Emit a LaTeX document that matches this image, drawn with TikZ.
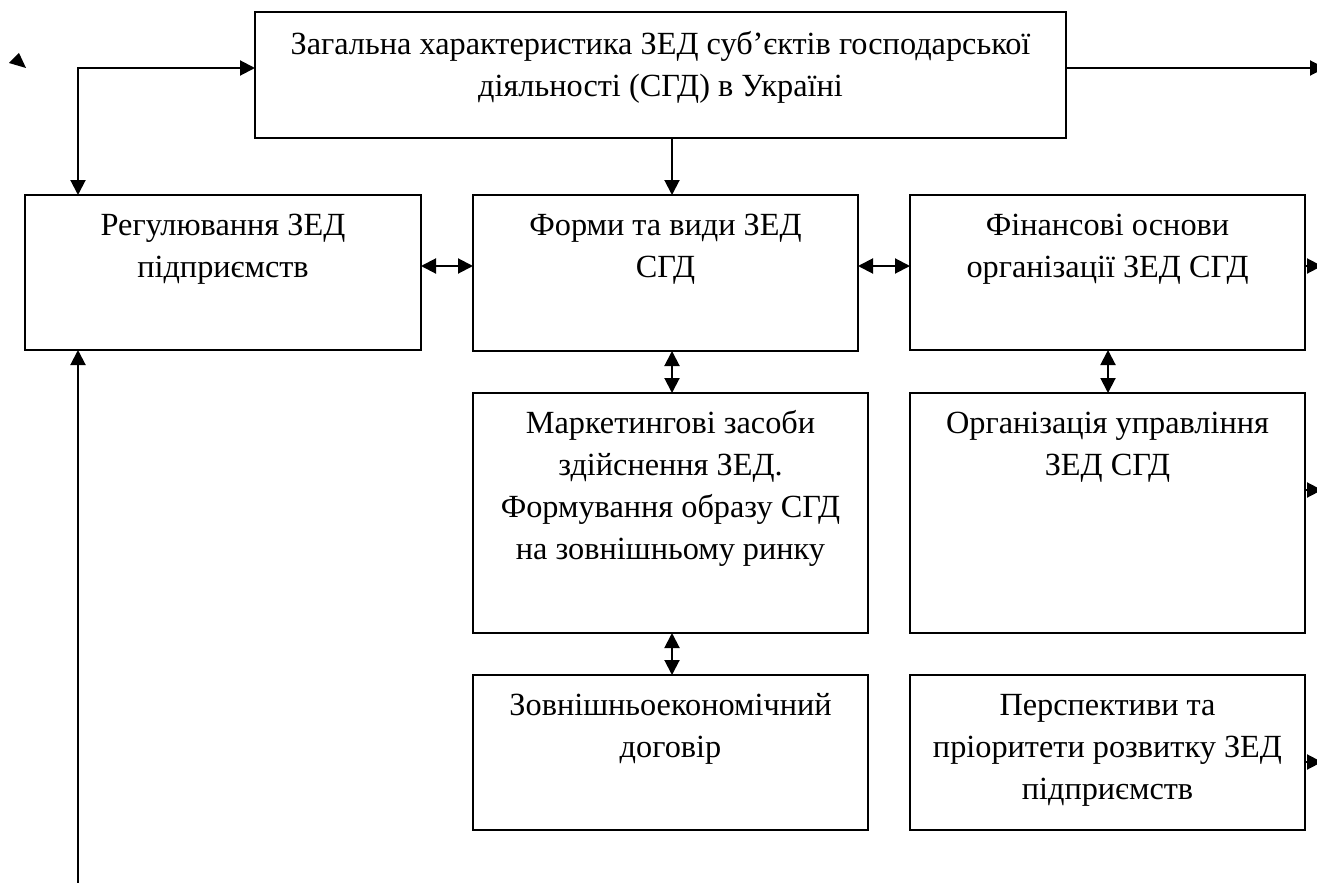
\documentclass[tikz,border=0pt]{standalone}
\usepackage{fontspec}
\setmainfont{Liberation Serif}
\usetikzlibrary{arrows.meta}
\newcommand\bxt[4]{\parbox[c][#2pt][t]{#1pt}{\centering\fontsize{32.3pt}{42pt}\selectfont\rule{0pt}{#3pt}#4}}
\begin{document}
\begin{tikzpicture}[x=1pt,y=-1pt,
  box/.style={draw, line width=1.6pt, inner sep=0pt, outer sep=0pt, anchor=north west},
  conn/.style={line width=2pt},
  arr/.style={conn, -{Triangle[length=15pt,width=15pt]}},
  dbl/.style={conn, {Triangle[length=15pt,width=15pt]}-{Triangle[length=15pt,width=15pt]}}]
\useasboundingbox (0,0) rectangle (1317,883);
\node[box] (top) at (255,12) {\bxt{811}{126}{43}{Загальна характеристика ЗЕД суб’єктів господарської\\діяльності (СГД) в Україні}};
\node[box] (reg) at (25,195) {\bxt{396}{155}{40}{Регулювання ЗЕД\\підприємств}};
\node[box] (forms) at (473,195) {\bxt{385}{156}{40}{Форми та види ЗЕД\\СГД}};
\node[box] (fin) at (910,195) {\bxt{395}{155}{40}{Фінансові основи\\організації ЗЕД СГД}};
\node[box] (mark) at (473,393) {\bxt{395}{240}{40}{Маркетингові засоби\\здійснення ЗЕД.\\Формування образу СГД\\на зовнішньому ринку}};
\node[box] (org) at (910,393) {\bxt{395}{240}{40}{Організація управління\\ЗЕД СГД}};
\node[box] (zovn) at (473,675) {\bxt{395}{155}{40}{Зовнішньоекономічний\\договір}};
\node[box] (persp) at (910,675) {\bxt{395}{155}{40}{Перспективи та\\пріоритети розвитку ЗЕД\\підприємств}};
\coordinate (ytop) at (0,68);
\coordinate (ymid) at (0,266);
\coordinate (yorg) at (0,490);
\coordinate (ypersp) at (0,762);
\coordinate (xL) at (78,0);
\coordinate (xM) at (672,0);
\coordinate (xR) at (1108,0);
\coordinate (corner) at (78,68);
\coordinate (outTop) at (1325,68);
\coordinate (outFin) at (1322,266);
\coordinate (outOrg) at (1322,490);
\coordinate (outPersp) at (1322,762);
\coordinate (inBot) at (78,890);
\draw[dbl] (reg.north -| xL) -- (corner) -- (top.west |- ytop);
\draw[arr] (top.east |- ytop) -- (outTop);
\draw[arr] (top.south -| xM) -- (forms.north -| xM);
\draw[dbl] (reg.east |- ymid) -- (forms.west |- ymid);
\draw[dbl] (forms.east |- ymid) -- (fin.west |- ymid);
\draw[arr] (fin.east |- ymid) -- (outFin);
\draw[dbl] (forms.south -| xM) -- (mark.north -| xM);
\draw[dbl] (fin.south -| xR) -- (org.north -| xR);
\draw[arr] (org.east |- yorg) -- (outOrg);
\draw[dbl] (mark.south -| xM) -- (zovn.north -| xM);
\draw[arr] (persp.east |- ypersp) -- (outPersp);
\draw[arr] (inBot) -- (reg.south -| xL);
\fill (19,53) -- (9,63) -- (26,68) -- cycle;
\end{tikzpicture}
\end{document}
